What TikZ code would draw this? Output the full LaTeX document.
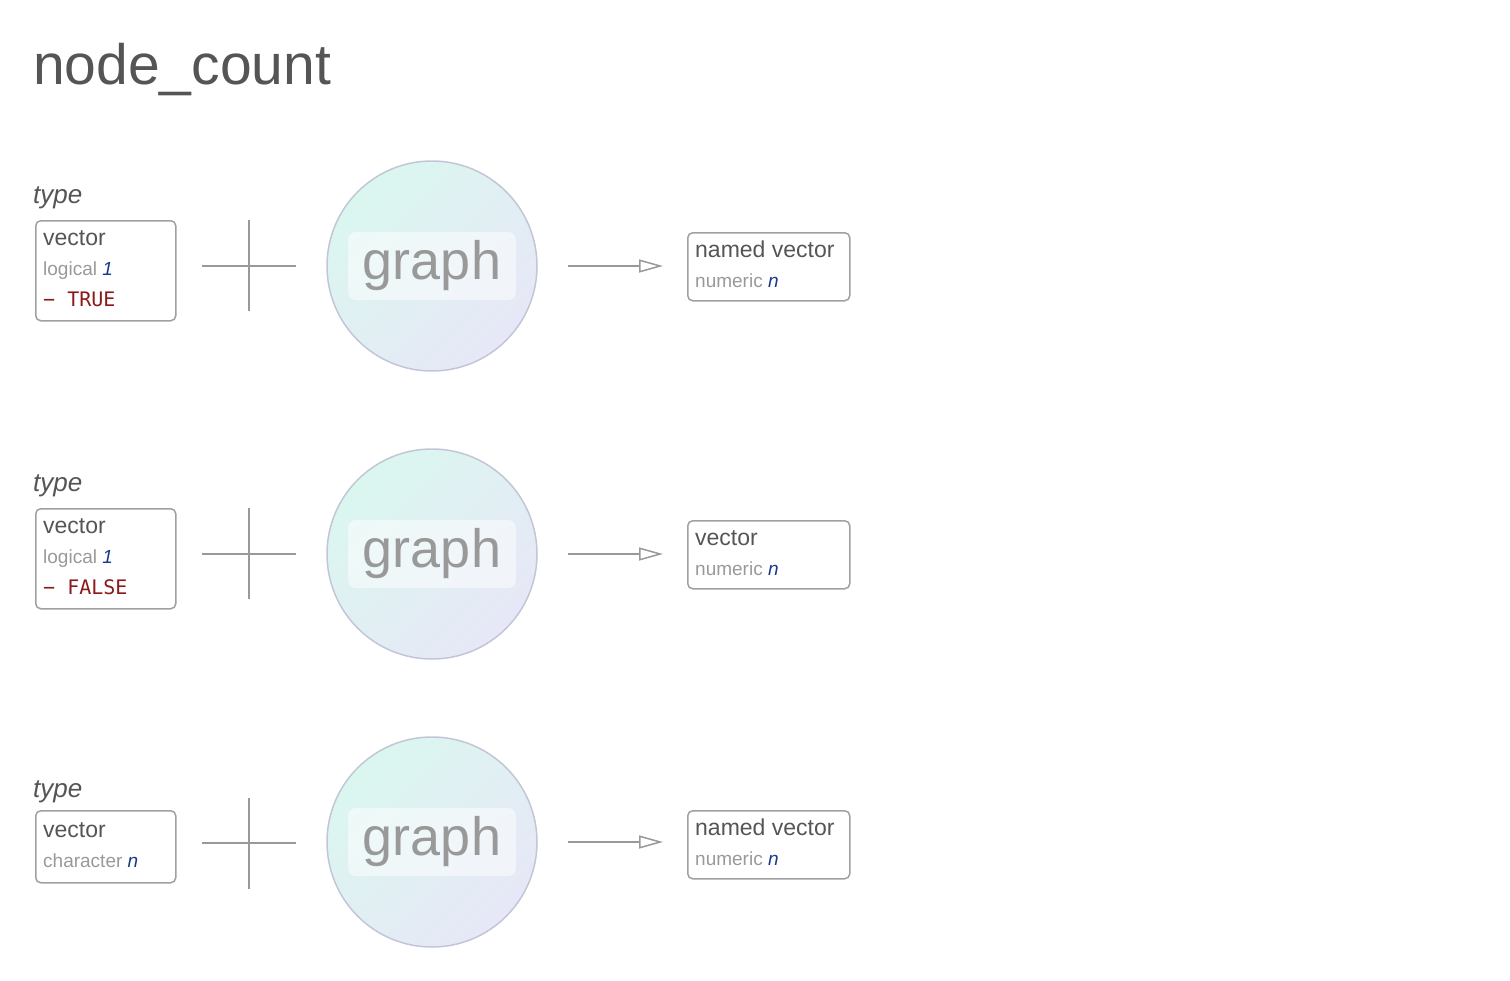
\documentclass[tikz,border=0pt]{standalone}
\usepackage{fontspec}
\setmainfont{Liberation Sans}
\newfontfamily\codefont{DejaVu Sans Mono}
\usetikzlibrary{arrows.meta}
\definecolor{txtdark}{HTML}{555555}
\definecolor{txtgray}{HTML}{999999}
\definecolor{lnblue}{HTML}{1A3A8C}
\definecolor{lnred}{HTML}{8B1A1A}
\definecolor{mint}{HTML}{DAF7EF}
\definecolor{lavender}{HTML}{E7E7F7}
\definecolor{rim}{HTML}{C3C6D6}
\definecolor{frame}{HTML}{A0A0A0}
\newcommand\typeval[1]{{\color{lnblue}\itshape #1}}

\begin{document}
\begin{tikzpicture}[x=1pt,y=-1pt,
	every node/.style={inner sep=0pt},
	title/.style={anchor=base west,font=\fontsize{57}{57}\selectfont,text=txtdark},
	tlabel/.style={anchor=base west,font=\itshape\fontsize{26}{26}\selectfont,text=txtdark},
	box/.style={draw=frame,line width=1.5pt,rounded corners=5pt,anchor=north west,minimum width=140pt},
	head/.style={anchor=base west,font=\fontsize{23}{23}\selectfont,text=txtdark},
	sub/.style={anchor=base west,font=\fontsize{19}{19}\selectfont,text=txtgray},
	code/.style={anchor=base west,font=\codefont\fontsize{20}{20}\selectfont,text=lnred},
	plus/.style={draw=txtgray,line width=1.5pt},
	graph/.style={circle,draw=rim,line width=1.5pt,minimum size=210pt,top color=mint,bottom color=lavender,shading angle=45},
	gbox/.style={fill=white,fill opacity=.5,text opacity=1,rounded corners=8pt,minimum width=168pt,minimum height=68pt,text=txtgray,font=\fontsize{54}{54}\selectfont},
	conn/.style={draw=txtgray,line width=1.5pt,-{Triangle[open,length=24pt,width=13pt]},shorten <=30pt,shorten >=24pt}]
	\useasboundingbox (0,0) rectangle (1510,980);
	%titulo
	\node[title] (ttl) at (33,84) {node\_count};
	%linha 1
	\node[tlabel] (t1) at (33,203) {type};
	\node[box,minimum height=100pt] (in1) at (35,220) {};
	\node[head] (in1a) at (43,245) {vector};
	\node[sub] (in1b) at (43,275) {logical \typeval{1}};
	\node[code] (in1c) at (43,306) {− TRUE};
	\draw[plus] (202,266) -- (296,266) (249,220) -- (249,311);
	\node[graph] (g1) at (432,266) {};
	\node[gbox] (g1t) at (g1) {graph};
	\node[box,minimum width=162pt,minimum height=68pt] (out1) at (687,232) {};
	\node[head] (out1a) at (695,257) {named vector};
	\node[sub] (out1b) at (695,287) {numeric \typeval{n}};
	\draw[conn] (g1) -- (g1 -| out1.west);
	%linha 2
	\node[tlabel] (t2) at (33,491) {type};
	\node[box,minimum height=100pt] (in2) at (35,508) {};
	\node[head] (in2a) at (43,533) {vector};
	\node[sub] (in2b) at (43,563) {logical \typeval{1}};
	\node[code] (in2c) at (43,594) {− FALSE};
	\draw[plus] (202,554) -- (296,554) (249,508) -- (249,599);
	\node[graph] (g2) at (432,554) {};
	\node[gbox] (g2t) at (g2) {graph};
	\node[box,minimum width=162pt,minimum height=68pt] (out2) at (687,520) {};
	\node[head] (out2a) at (695,545) {vector};
	\node[sub] (out2b) at (695,575) {numeric \typeval{n}};
	\draw[conn] (g2) -- (g2 -| out2.west);
	%linha 3
	\node[tlabel] (t3) at (33,797) {type};
	\node[box,minimum height=72pt] (in3) at (35,810) {};
	\node[head] (in3a) at (43,837) {vector};
	\node[sub] (in3b) at (43,867) {character \typeval{n}};
	\draw[plus] (202,843) -- (296,843) (249,798) -- (249,889);
	\node[graph] (g3) at (432,842) {};
	\node[gbox] (g3t) at (g3) {graph};
	\node[box,minimum width=162pt,minimum height=68pt] (out3) at (687,810) {};
	\node[head] (out3a) at (695,835) {named vector};
	\node[sub] (out3b) at (695,865) {numeric \typeval{n}};
	\draw[conn] (g3) -- (g3 -| out3.west);
\end{tikzpicture}
\end{document}
